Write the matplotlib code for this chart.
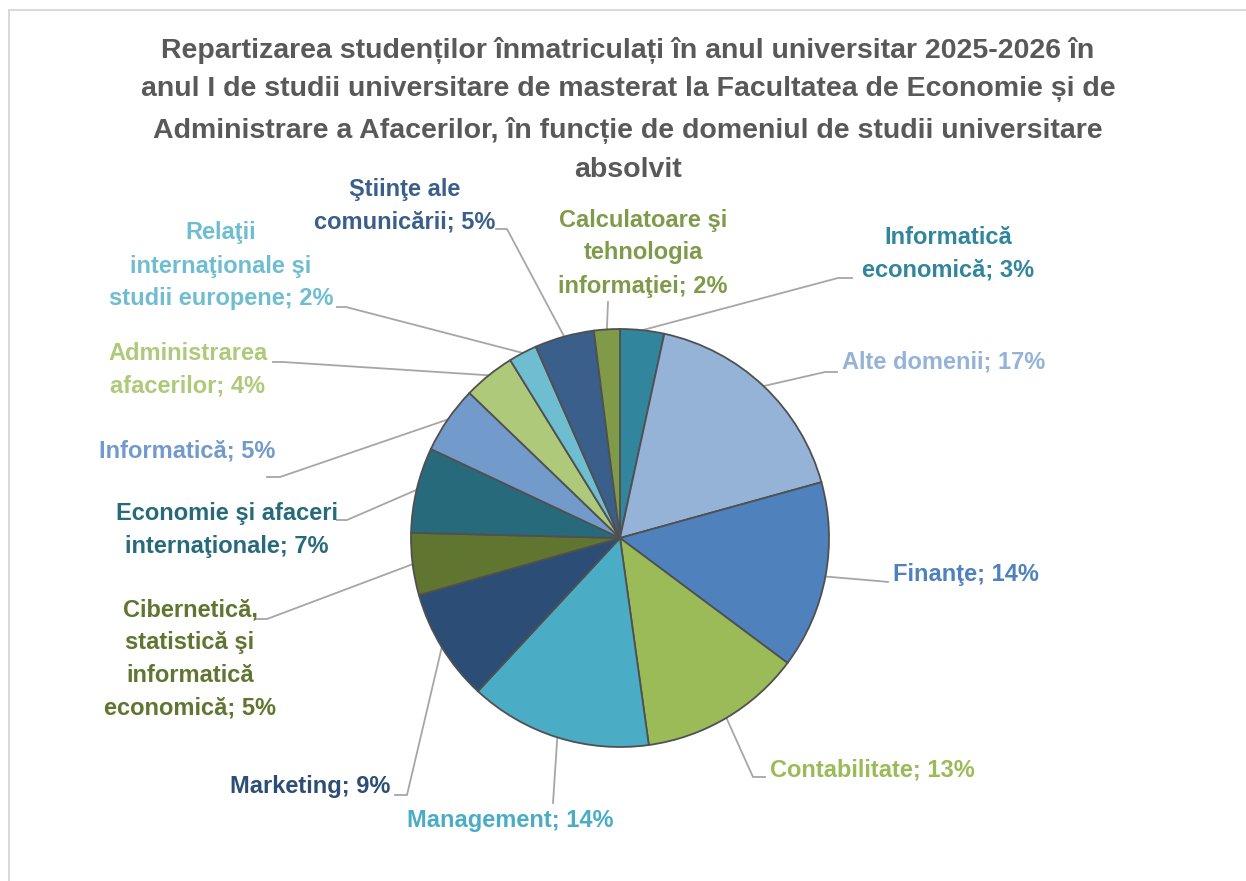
import matplotlib
matplotlib.use("Agg")
import numpy as np
import matplotlib.pyplot as plt
from matplotlib import font_manager
from matplotlib.patches import Rectangle

# ---------------------------------------------------------------------------
# Date (procente, ordine în sensul acelor de ceasornic de sus)
categories = [
    "Informatică\neconomică",
    "Alte domenii",
    "Finanţe",
    "Contabilitate",
    "Management",
    "Marketing",
    "Cibernetică,\nstatistică şi\ninformatică\neconomică",
    "Economie şi afaceri\ninternaţionale",
    "Informatică",
    "Administrarea\nafacerilor",
    "Relaţii\ninternaţionale şi\nstudii europene",
    "Ştiinţe ale\ncomunicării",
    "Calculatoare şi\ntehnologia\ninformaţiei",
]
values = [3.4, 17.3, 14.5, 12.6, 14.1, 8.7, 4.8, 6.6, 5.2, 4.0, 2.2, 4.6, 2.0]
colors = ["#31859C", "#95B3D7", "#4F81BD", "#9BBB59", "#4BACC6", "#2C4D75",
          "#5F7530", "#276A7C", "#729ACA", "#AFC97A", "#6FBDD1", "#3A5F8B",
          "#7F9A48"]

title_lines = [
    "Repartizarea studenților înmatriculați în anul universitar 2025-2026 în",
    "anul I de studii universitare de masterat la Facultatea de Economie și de",
    "Administrare a Afacerilor, în funcție de domeniul de studii universitare",
    "absolvit",
]

# poziții etichete (pixeli): x text, y centru, aliniere, cot linie, capăt linie
LABEL_POS = [
    (948, 254, "center", (838, 278), (852, 278)),
    (842, 362, "left",   (825, 372), (837, 372)),
    (893, 574, "left",   (878, 581), (888, 582)),
    (770, 770, "left",   (753, 777), (765, 777)),
    (510, 820, "center", (553, 803), (553, 803)),
    (390, 786, "right",  (407, 795), (395, 795)),
    (190, 659, "center", (267, 619), (255, 619)),
    (227, 530, "center", (347, 520), (337, 520)),
    (187, 451, "center", (280, 477), (267, 477)),
    (188, 370, "center", (283, 362), (273, 362)),
    (221, 266, "center", (346, 307), (337, 307)),
    (405, 206, "center", (507, 229), (496, 229)),
    (643, 253, "center", (608, 302), (608, 302)),
]

W, H = 1246, 881
CX, CY, R = 620, 538, 209

names = {f.name for f in font_manager.fontManager.ttflist}
FONT = "Liberation Sans Narrow" if "Liberation Sans Narrow" in names else "Liberation Sans"
plt.rcParams["font.family"] = [FONT, "DejaVu Sans"]


def Y(y):
    return H - y


fig = plt.figure(figsize=(W / 100, H / 100), dpi=100)
ax = fig.add_axes([0, 0, 1, 1])

wedges, _ = ax.pie(values, colors=colors, startangle=90, counterclock=False,
                   center=(CX, Y(CY)), radius=R,
                   wedgeprops=dict(edgecolor="#505050", linewidth=1.3))
ax.set_xlim(0, W)
ax.set_ylim(0, H)
ax.set_aspect("auto")
ax.axis("off")

# chenar gri
ax.add_patch(Rectangle((9, -20), W + 40, Y(10) + 20, fill=False,
                       edgecolor="#D9D9D9", linewidth=1.5))

# titlu
for ln, yy in zip(title_lines, [50, 89, 130, 170]):
    ax.text(628, Y(yy), ln, ha="center", va="center", fontsize=20.5,
            fontweight="bold", color="#595959")

# etichete + linii de legătură
LSP = 33
for w, name, v, col, (tx, ty, ha, knee, end) in zip(
        wedges, categories, values, colors, LABEL_POS):
    mid = np.deg2rad((w.theta1 + w.theta2) / 2)
    sx = CX + R * np.cos(mid)
    sy = Y(CY) + R * np.sin(mid)
    ax.plot([sx, knee[0], end[0]], [sy, Y(knee[1]), Y(end[1])],
            color="#A6A6A6", lw=1.3, zorder=0)
    lines = (name + "; %d%%" % round(v)).split("\n")
    n = len(lines)
    for k, ln in enumerate(lines):
        yy = ty + (k - (n - 1) / 2) * LSP
        ax.text(tx, Y(yy), ln, ha=ha, va="center", fontsize=17,
                fontweight="bold", color=col)

fig.savefig("out.png", dpi=100, facecolor="white")
